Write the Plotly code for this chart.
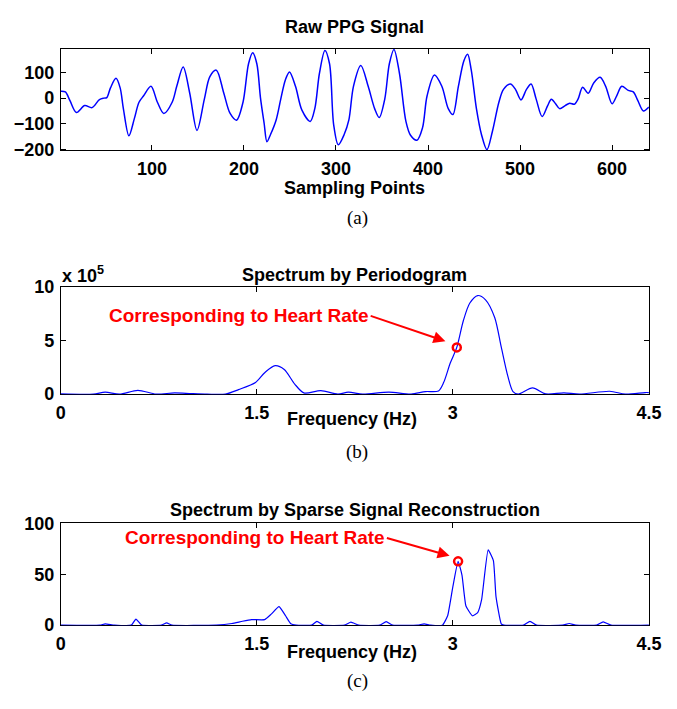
import plotly.graph_objects as go

# ---------------- data ----------------
ppg_x = [1, 6, 11, 18, 27, 35, 43, 48, 51, 55, 61, 65.5, 69, 75, 81, 86, 91, 99, 106, 113,
         122, 127, 134, 141, 149, 157, 163, 170, 178, 185, 192, 199, 205, 209.5, 214, 218, 222,
         225, 229, 235, 240, 245, 249.5, 256, 263, 272, 277, 282, 288, 293, 297.5, 302.5, 309,
         314, 319, 327, 335, 342, 347, 353, 358, 363, 369, 376, 381, 388, 394, 399, 407, 415,
         422, 427, 433, 439, 443, 447, 452.6, 458, 464, 470, 477, 482, 489.5, 495, 501, 507,
         512, 517.5, 524, 530, 534, 538.6, 543, 549, 554, 559, 563, 568, 574, 580, 587, 593,
         600, 605, 610.5, 617.5, 623, 628, 634, 640]
ppg_y = [27, 24, -10, -56, -29, -37, -6, 0, 2, 40, 77, 40, -41, -147, -79, -16, 9, 46, -16, -60,
         -16, 46, 121, 21, -126, -4, 84, 109, 21, -60, -86, -16, 134, 177, 134, 0, -100,
         -170, -141, -85, -4, 71, 102, 46, -47, -91, -41, 96, 186, 134, -104, -182, -141,
         -85, 46, 127, 46, -41, -76, -4, 134, 190, 96, -91, -145, -164, -116, 9, 90, 46,
         -41, -64, 46, 146, 171, 109, -41, -141, -201, -129, -16, 34, 55, 34, -7, 34,
         55, -4, -72, -29, -4, -22, -41, -29, -20, -24, -4, 42, 19, 59, 81, 46,
         -22, 9, 46, 30, 24, -10, -50, -35]

# periodogram, in units of 1e5
pg_f = [0, 0.25, 0.34, 0.45, 0.59, 0.73, 0.87, 1.0, 1.12, 1.26, 1.36, 1.49, 1.56, 1.64, 1.71,
        1.79, 1.86, 1.99, 2.12, 2.2, 2.31, 2.51, 2.68, 2.79, 2.89, 2.93, 2.98, 3.03, 3.08,
        3.13, 3.19, 3.25, 3.32, 3.37, 3.42, 3.46, 3.50, 3.61, 3.71, 3.85, 3.97, 4.20, 4.32,
        4.47, 4.5]
pg_v = [0.02, 0.0, 0.18, 0.0, 0.36, 0.0, 0.12, 0.05, 0.0, 0.0, 0.42, 1.09, 2.0, 2.66, 2.3,
        0.94, 0.12, 0.33, 0.0, 0.18, 0.0, 0.18, 0.0, 0.24, 0.3, 1.1, 2.9, 4.36, 6.85,
        8.5, 9.2, 8.8, 7.15, 4.4, 1.7, 0.24, 0.0, 0.58, 0.03, 0.12, 0.0, 0.27, 0.0,
        0.15, 0.15]

# sparse signal reconstruction spectrum
sp_f = [0, 0.30, 0.34, 0.41, 0.54, 0.575, 0.62, 0.77, 0.81, 0.85, 1.19, 1.31, 1.39, 1.46,
        1.56, 1.61, 1.67, 1.72, 1.76, 1.80, 1.92, 1.96, 2.01, 2.17, 2.22, 2.28, 2.44, 2.49,
        2.54, 2.73, 2.78, 2.83, 2.92, 2.96, 3.0, 3.04, 3.07, 3.10, 3.15, 3.19, 3.22, 3.27,
        3.31, 3.33, 3.37, 3.39, 3.54, 3.59, 3.64, 3.84, 3.89, 3.94, 4.10, 4.15, 4.21, 4.5]
sp_v = [0, 0, 1.3, 0, 0, 6, 0, 0, 2.2, 0, 0, 1.6, 3.8, 5.4, 5.4, 10.8, 18.2, 9.2, 1.3, 0,
        0, 3.8, 0, 0, 2.9, 0, 0, 3.5, 0, 0, 1.3, 0, 0, 9.2, 37.9, 62.7, 49, 18.8, 9.2, 12.4,
        25, 73.9, 63.4, 28, 1.3, 0, 0, 3.8, 0, 0, 1.6, 0, 0, 3.2, 0, 0]

hr_pg = (3.03, 4.36)
hr_sp = (3.04, 62.7)

ppg_xticks = [100, 200, 300, 400, 500, 600]
ppg_yticks = [-200, -100, 0, 100]
f_ticks = [0, 1.5, 3, 4.5]
f_ticklabels = ["0", "1.5", "3", "4.5"]
pg_yticks = [0, 5, 10]
sp_yticks = [0, 50, 100]

# ---------------- layout helpers ----------------
W, H = 677, 709
FONT = "Liberation Sans, Arial, Helvetica, sans-serif"
SERIF = "Liberation Serif, Times New Roman, serif"
BLUE = "#0000ff"
RED = "#ff0000"

def px_x(p):
    return p / W

def px_y(p):
    return 1 - p / H

X0, X1 = 57.3, 661.5
xdom = [px_x(X0), px_x(X1)]
panels = [(40, 144.5), (285, 395.3), (528.3, 633)]

fig = go.Figure()
fig.add_trace(go.Scatter(x=ppg_x, y=ppg_y, mode="lines", line=dict(color=BLUE, width=1.5, shape="spline", smoothing=0.9),
                         xaxis="x", yaxis="y", showlegend=False))
fig.add_trace(go.Scatter(x=pg_f, y=pg_v, mode="lines", line=dict(color=BLUE, width=1.2, shape="spline", smoothing=0.8),
                         xaxis="x2", yaxis="y2", showlegend=False))
fig.add_trace(go.Scatter(x=[hr_pg[0]], y=[hr_pg[1]], mode="markers",
                         marker=dict(symbol="circle-open", size=8, color=RED, line=dict(width=2.5, color=RED)),
                         xaxis="x2", yaxis="y2", showlegend=False))
fig.add_trace(go.Scatter(x=sp_f, y=sp_v, mode="lines", line=dict(color=BLUE, width=1.2, shape="spline", smoothing=0.4),
                         xaxis="x3", yaxis="y3", showlegend=False))
fig.add_trace(go.Scatter(x=[hr_sp[0]], y=[hr_sp[1]], mode="markers",
                         marker=dict(symbol="circle-open", size=8, color=RED, line=dict(width=2.5, color=RED)),
                         xaxis="x3", yaxis="y3", showlegend=False))

tickfont = dict(family=FONT, size=18, color="black", weight="bold")

def ax(**kw):
    d = dict(showline=True, mirror="allticks", linecolor="black", linewidth=1,
             ticks="inside", ticklen=5, tickcolor="black", showgrid=False, zeroline=False,
             tickfont=tickfont, layer="below traces", ticklabelstandoff=2)
    d.update(kw)
    return d

ydom = [[px_y(b), px_y(t)] for (t, b) in panels]

fig.update_layout(
    width=W, height=H, margin=dict(l=0, r=0, t=0, b=0),
    paper_bgcolor="white", plot_bgcolor="white", showlegend=False,
    xaxis=ax(domain=xdom, range=[1, 640], tickvals=ppg_xticks, anchor="y"),
    yaxis=ax(domain=ydom[0], range=[-204, 192], tickvals=ppg_yticks, anchor="x"),
    xaxis2=ax(domain=xdom, range=[0, 4.5], tickvals=f_ticks, ticktext=f_ticklabels, anchor="y2"),
    yaxis2=ax(domain=ydom[1], range=[0, 10], tickvals=pg_yticks, anchor="x2"),
    xaxis3=ax(domain=xdom, range=[0, 4.5], tickvals=f_ticks, ticktext=f_ticklabels, anchor="y3"),
    yaxis3=ax(domain=ydom[2], range=[0, 100], tickvals=sp_yticks, anchor="x3"),
)

cx = (xdom[0] + xdom[1]) / 2
bold = dict(family=FONT, size=18, color="black", weight="bold")
texts = [
    ("Raw PPG Signal", cx, 18),
    ("Sampling Points", cx, 183),
    ("Spectrum by Periodogram", cx, 273),
    ("Frequency (Hz)", 356 / W, 421),
    ("Spectrum by Sparse Signal Reconstruction", cx, 514),
    ("Frequency (Hz)", 356 / W, 661),
]
for t, x, y in texts:
    fig.add_annotation(text=t, x=x, y=px_y(y), xref="paper", yref="paper",
                       xanchor="center", yanchor="middle", showarrow=False, font=bold)

for t, y in [("(a)", 214), ("(b)", 455), ("(c)", 690)]:
    fig.add_annotation(text=t, x=362 / W, y=px_y(y), xref="paper", yref="paper",
                       xanchor="center", yanchor="middle", showarrow=False,
                       font=dict(family=SERIF, size=19, color="black"))

fig.add_annotation(text="x 10<sup>5</sup>", x=px_x(57), y=px_y(272), xref="paper", yref="paper",
                   xanchor="left", yanchor="middle", showarrow=False, font=bold)

red = dict(family=FONT, size=19, color=RED, weight="bold")
# periodogram annotation: text right edge at arrow tail
fig.add_annotation(x=2.943, y=4.94, ax=2.371, ay=7.3, xref="x2", yref="y2", axref="x2", ayref="y2",
                   text="Corresponding to Heart Rate", xanchor="right", yanchor="middle", font=red,
                   showarrow=True, arrowhead=2, arrowsize=1.2, arrowwidth=2, arrowcolor=RED)
# sparse annotation
fig.add_annotation(x=2.975, y=68.1, ax=2.495, ay=85.7, xref="x3", yref="y3", axref="x3", ayref="y3",
                   text="Corresponding to Heart Rate", xanchor="right", yanchor="middle", font=red,
                   showarrow=True, arrowhead=2, arrowsize=1.2, arrowwidth=2, arrowcolor=RED)

fig.write_html("out.html", config={"displayModeBar": False},
               post_script="document.body.style.margin='0';document.body.style.overflow='hidden';")
